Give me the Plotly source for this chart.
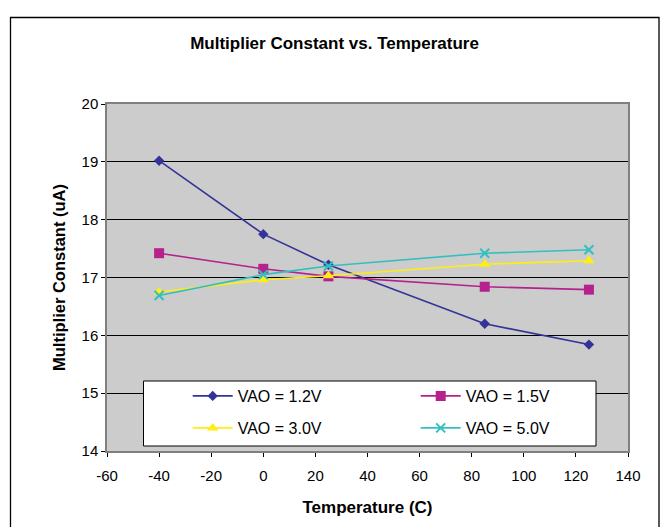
import plotly.graph_objects as go

# Data
temperature = [-40, 0, 25, 85, 125]
vao_12 = [19.02, 17.75, 17.22, 16.20, 15.84]
vao_15 = [17.42, 17.15, 17.02, 16.84, 16.79]
vao_30 = [16.75, 16.96, 17.03, 17.23, 17.29]
vao_50 = [16.69, 17.05, 17.20, 17.42, 17.48]

series_names = ["VAO = 1.2V", "VAO = 1.5V", "VAO = 3.0V", "VAO = 5.0V"]
x_ticks = [-60, -40, -20, 0, 20, 40, 60, 80, 100, 120, 140]
x_tick_labels = ["-60", "-40", "-20", "0", "20", "40", "60", "80", "100", "120", "140"]
y_ticks = [14, 15, 16, 17, 18, 19, 20]

FONT = "Liberation Sans, Arial, sans-serif"

fig = go.Figure()

styles = [
    dict(color="#333399", symbol="diamond", size=8, legend="legend"),
    dict(color="#B5218D", symbol="square", size=10, legend="legend"),
    dict(color="#FFEE11", symbol="triangle-up", size=10, legend="legend2"),
    dict(color="#33BFBF", symbol="x-thin", size=9, legend="legend2"),
]
values = [vao_12, vao_15, vao_30, vao_50]

for name, vals, st in zip(series_names, values, styles):
    marker = dict(symbol=st["symbol"], size=st["size"], color=st["color"])
    if st["symbol"] == "x-thin":
        marker["line"] = dict(color=st["color"], width=2)
    else:
        marker["line"] = dict(width=0)
    fig.add_trace(go.Scatter(
        x=temperature, y=vals, name=name, mode="lines+markers",
        line=dict(color=st["color"], width=1.6),
        marker=marker, legend=st["legend"],
    ))

W, H = 660, 527
# plot area in window px: left 107, right 628, top 104, bottom 451
L, R, T, B = 107, 628, 104, 451
pw, ph = R - L, B - T

def px_x(v):
    return (v - L) / pw

def px_y(v):
    return (B - v) / ph

shapes = [
    # legend box
    dict(type="rect", xref="paper", yref="paper",
         x0=px_x(143.5), x1=px_x(596), y0=px_y(446), y1=px_y(381),
         fillcolor="white", line=dict(color="black", width=1), layer="above"),
    # outer chart border
    dict(type="rect", xref="paper", yref="paper",
         x0=px_x(10.5), x1=px_x(659), y0=px_y(540), y1=px_y(17.5),
         fillcolor="rgba(0,0,0,0)", line=dict(color="black", width=1.3), layer="below"),
]

legend_common = dict(
    orientation="h", xanchor="left", yanchor="middle",
    font=dict(family=FONT, size=16, color="black"),
    bgcolor="rgba(0,0,0,0)", borderwidth=0,
    itemwidth=40, entrywidth=173, entrywidthmode="pixels",
)

fig.update_layout(
    width=W, height=H,
    margin=dict(l=L, r=W - R, t=T, b=H - B),
    paper_bgcolor="white",
    plot_bgcolor="#CCCCCC",
    font=dict(family=FONT, size=15, color="black"),
    title=dict(text="<b>Multiplier Constant vs. Temperature</b>",
               x=334.5 / W, xref="container", xanchor="center",
               y=1 - 43 / H, yref="container", yanchor="middle",
               font=dict(family=FONT, size=17, color="black")),
    xaxis=dict(range=[-60, 140], tickvals=x_ticks, ticktext=x_tick_labels,
               ticks="outside", ticklen=4, ticklabelstandoff=6,
               tickcolor="black", showgrid=False, zeroline=False,
               showline=True, linecolor="#808080", linewidth=1.5, mirror=True,
               title=dict(text="<b>Temperature (C)</b>", standoff=18,
                          font=dict(family=FONT, size=17, color="black")),
               tickfont=dict(family=FONT, size=15, color="black")),
    yaxis=dict(range=[14, 20], tickvals=y_ticks, ticks="outside", ticklen=4,
               tickcolor="black", showgrid=True, gridcolor="black", gridwidth=1,
               zeroline=False,
               showline=True, linecolor="#808080", linewidth=1.5, mirror=True,
               title=dict(text="<b>Multiplier Constant (uA)</b>", standoff=12,
                          font=dict(family=FONT, size=16.5, color="black")),
               tickfont=dict(family=FONT, size=15, color="black")),
    legend=dict(x=px_x(187.7), y=px_y(396), **legend_common),
    legend2=dict(x=px_x(187.7), y=px_y(428), **legend_common),
    shapes=shapes,
    showlegend=True,
)

# remove the default page margin so the 660x527 figure fills the window exactly
fig.write_html(
    "out.html",
    config={"displayModeBar": False},
    post_script="document.body.style.margin='0';document.body.style.overflow='hidden';",
)
